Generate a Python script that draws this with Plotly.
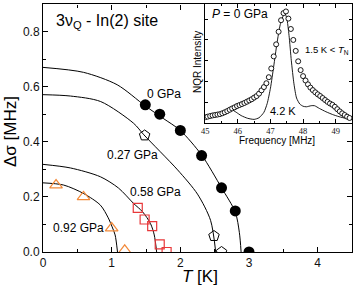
import plotly.graph_objects as go

# ---------------- main plot data ----------------
t_0gpa = [1.49, 1.70, 2.00, 2.31, 2.60, 2.80, 3.00]
d_0gpa = [0.534, 0.500, 0.441, 0.350, 0.233, 0.149, 0.0]

t_027gpa = [1.48, 2.49, 2.60]
d_027gpa = [0.423, 0.058, 0.0]

t_058gpa = [1.38, 1.48, 1.59, 1.70, 1.80]
d_058gpa = [0.160, 0.118, 0.094, 0.028, 0.0]

t_092gpa = [0.19, 0.59, 1.00, 1.19]
d_092gpa = [0.243, 0.200, 0.087, 0.006]

# fit curves
fit0_t = [0.0, 0.59, 1.08, 1.49, 1.75, 2.0, 2.31, 2.6, 2.8, 2.86, 2.885]
fit0_d = [0.670, 0.652, 0.607, 0.530, 0.485, 0.441, 0.352, 0.233, 0.145, 0.07, 0.0]
fit027_t = [0.0, 0.4, 0.84, 1.32, 1.47, 1.96, 2.25, 2.44, 2.515]
fit027_d = [0.571, 0.566, 0.546, 0.467, 0.425, 0.298, 0.21, 0.115, 0.0]
fit058_t = [0.0, 0.4, 0.836, 1.1, 1.32, 1.45, 1.566, 1.62, 1.655]
fit058_d = [0.318, 0.305, 0.273, 0.232, 0.176, 0.146, 0.103, 0.062, 0.0]
fit092_t = [0.0, 0.3, 0.593, 0.836, 0.95, 1.007, 1.05, 1.085]
fit092_d = [0.251, 0.243, 0.212, 0.170, 0.124, 0.091, 0.062, 0.0]

# ---------------- inset data ----------------
f_15k = [45.000, 45.075, 45.150, 45.225, 45.300, 45.375, 45.450, 45.525, 45.600, 45.675,
         45.750, 45.825, 45.900, 45.975, 46.050, 46.125, 46.200, 46.275, 46.350, 46.425,
         46.500, 46.575, 46.650, 46.725, 46.800, 46.875, 46.950, 47.025, 47.100, 47.175,
         47.250, 47.325, 47.400, 47.475, 47.550, 47.625, 47.700, 47.775, 47.850, 47.925,
         48.000, 48.075, 48.150, 48.225, 48.300, 48.375, 48.450, 48.525, 48.600, 48.675,
         48.750, 48.825, 48.900, 48.975, 49.050, 49.125, 49.200, 49.275, 49.350, 49.425]
i_15k = [0.035, 0.040, 0.046, 0.051, 0.055, 0.059, 0.063, 0.071, 0.080, 0.091,
         0.103, 0.115, 0.125, 0.137, 0.146, 0.155, 0.165, 0.176, 0.188, 0.199,
         0.214, 0.228, 0.250, 0.280, 0.310, 0.345, 0.400, 0.480, 0.590, 0.700,
         0.815, 0.920, 0.985, 1.000, 0.935, 0.840, 0.740, 0.640, 0.545, 0.465,
         0.410, 0.370, 0.335, 0.305, 0.282, 0.262, 0.244, 0.228, 0.210, 0.192,
         0.175, 0.160, 0.148, 0.130, 0.108, 0.088, 0.070, 0.055, 0.040, 0.028]

f_42k = [45.00, 45.20, 45.40, 45.60, 45.80, 45.95, 46.10, 46.30, 46.50, 46.65, 46.80,
         46.90, 47.00, 47.10, 47.20, 47.30, 47.40, 47.45, 47.50, 47.57, 47.64, 47.72,
         47.80, 47.90, 48.00, 48.10, 48.25, 48.35, 48.50, 48.70, 48.90, 49.10, 49.30, 49.50]
i_42k = [0.020, 0.035, 0.050, 0.080, 0.105, 0.080, 0.050, 0.025, 0.015, 0.030, 0.080,
         0.160, 0.300, 0.500, 0.710, 0.880, 0.965, 0.975, 0.940, 0.780, 0.550, 0.340,
         0.210, 0.155, 0.135, 0.130, 0.140, 0.140, 0.115, 0.085, 0.060, 0.040, 0.025, 0.012]

main_xticks = [0, 1, 2, 3, 4]
main_yticks = [0.0, 0.2, 0.4, 0.6, 0.8]
inset_xticks = [45, 46, 47, 48, 49]

FONT = "Liberation Sans, Arial, sans-serif"
ORANGE = "#f28a3a"
RED = "#e8383a"

fig = go.Figure()

line_style = dict(color="black", width=1, shape="spline", smoothing=0.8)
for tx, dy in [(fit0_t, fit0_d), (fit027_t, fit027_d), (fit058_t, fit058_d), (fit092_t, fit092_d)]:
    fig.add_trace(go.Scatter(x=tx, y=dy, mode="lines", line=line_style, showlegend=False,
                             hoverinfo="skip"))

fig.add_trace(go.Scatter(x=t_0gpa, y=d_0gpa, mode="markers", showlegend=False,
                         marker=dict(symbol="circle", size=11, color="black")))
fig.add_trace(go.Scatter(x=t_027gpa, y=d_027gpa, mode="markers", showlegend=False,
                         marker=dict(symbol="pentagon-open", size=11, color="black",
                                     line=dict(width=1))))
fig.add_trace(go.Scatter(x=t_058gpa, y=d_058gpa, mode="markers", showlegend=False,
                         marker=dict(symbol="square-open", size=9, color=RED,
                                     line=dict(width=1.2))))
fig.add_trace(go.Scatter(x=t_092gpa, y=d_092gpa, mode="markers", showlegend=False,
                         marker=dict(symbol="triangle-up-open", size=11, color=ORANGE,
                                     line=dict(width=1.2))))

# inset traces
fig.add_trace(go.Scatter(x=f_42k, y=i_42k, mode="lines", xaxis="x2", yaxis="y2",
                         showlegend=False,
                         line=dict(color="black", width=0.9, shape="spline", smoothing=0.6)))
fig.add_trace(go.Scatter(x=f_15k, y=i_15k, mode="markers", xaxis="x2", yaxis="y2",
                         showlegend=False,
                         marker=dict(symbol="circle", size=5, color="white",
                                     line=dict(color="black", width=0.9))))

# empty trace that only carries the partial mirror-tick axes (top-left, bottom-right)
fig.add_trace(go.Scatter(x=[], y=[], xaxis="x3", yaxis="y4", showlegend=False,
                         hoverinfo="skip"))

X2D = [0.525, 1.0]
Y2D = [0.521, 1.0]
XMAX, YMAX = 4.5, 0.9

axis_common = dict(showgrid=False, zeroline=False, showline=True, linecolor="black",
                   linewidth=1, ticks="inside", tickcolor="black", tickwidth=1,
                   automargin=False)

fig.update_layout(
    width=355, height=286,
    margin=dict(l=43, r=3, t=4, b=34),
    paper_bgcolor="white", plot_bgcolor="rgba(0,0,0,0)",
    font=dict(family=FONT, color="black", size=12),
    xaxis=dict(**axis_common, range=[0, XMAX], tickvals=main_xticks, ticklen=5, mirror=True,
               minor=dict(ticks="inside", ticklen=3, tickvals=[0.5, 1.5, 2.5, 3.5],
                          tickcolor="black"),
               tickfont=dict(size=12, family=FONT, color="#111")),
    yaxis=dict(**axis_common, range=[0, YMAX], tickvals=main_yticks, tickformat=".1f",
               ticklen=5, mirror=True,
               minor=dict(ticks="inside", ticklen=3, tickvals=[0.1, 0.3, 0.5, 0.7],
                          tickcolor="black"),
               tickfont=dict(size=12, family=FONT, color="#111")),
    xaxis2=dict(**axis_common, domain=X2D, anchor="y2", range=[45, 49.5], tickvals=inset_xticks,
                ticklen=4, mirror="ticks",
                minor=dict(ticks="inside", ticklen=2, tickvals=[45.5, 46.5, 47.5, 48.5],
                           tickcolor="black"),
                tickfont=dict(size=8.5, family="Liberation Serif, Times New Roman, serif",
                              color="#111")),
    yaxis2=dict(**axis_common, domain=Y2D, anchor="x2", range=[-0.016, 1.068],
                tick0=-0.02, dtick=0.19, ticklen=3, mirror="ticks", showticklabels=False),
    xaxis3=dict(showgrid=False, zeroline=False, showline=False, anchor="free", position=1.0,
                side="top", domain=[0, X2D[0]], range=[0, XMAX * X2D[0]], automargin=False,
                tickvals=[0, 1, 2], ticks="inside", ticklen=5, tickcolor="black",
                showticklabels=False,
                minor=dict(ticks="inside", ticklen=3, tickvals=[0.5, 1.5], tickcolor="black")),
    yaxis4=dict(showgrid=False, zeroline=False, showline=False, anchor="free", position=1.0,
                side="right", domain=[0, Y2D[0]], range=[0, YMAX * Y2D[0]], automargin=False,
                tickvals=[0.0, 0.2, 0.4], ticks="inside", ticklen=5, tickcolor="black",
                showticklabels=False,
                minor=dict(ticks="inside", ticklen=3, tickvals=[0.1, 0.3], tickcolor="black")),
)

ann = []
def A(text, x, y, size, xref="x", yref="y", **kw):
    ann.append(dict(text=text, x=x, y=y, xref=xref, yref=yref, showarrow=False,
                    xanchor="center", yanchor="middle",
                    font=dict(size=size, family=FONT, color="black"), **kw))

def px_x(px):
    return (px - 43) / 309.0

def px_y(py):
    return (252.0 - py) / 248.0

A("3ν<sub>Q</sub> - In(2) site", 0.93, 0.836, 16)
A("0 GPa", 1.76, 0.574, 12)
A("0.27 GPa", 1.30, 0.352, 12)
A("0.58 GPa", 1.64, 0.217, 12)
A("0.92 GPa", 0.51, 0.086, 12)

A("<i>P</i> = 0 GPa", 46.06, 0.975, 12, xref="x2", yref="y2")
A("1.5 K &lt; <i>T</i><sub>N</sub>", 48.72, 0.65, 9.5, xref="x2", yref="y2")
A("4.2 K", 47.39, 0.09, 11, xref="x2", yref="y2")

# axis titles
A("<i>T</i> [K]", px_x(200), px_y(276), 17, xref="paper", yref="paper")
A("Δσ [MHz]", px_x(10), px_y(132), 17, xref="paper", yref="paper", textangle=-90)
A("Frequency [MHz]", px_x(277), px_y(140), 10, xref="paper", yref="paper")
A("NQR Intensity", px_x(197), px_y(62), 10, xref="paper", yref="paper", textangle=-90)

fig.update_layout(annotations=ann)

fig.write_html("out.html", config={"displayModeBar": False},
               post_script="document.body.style.margin='0';document.body.style.overflow='hidden';")
